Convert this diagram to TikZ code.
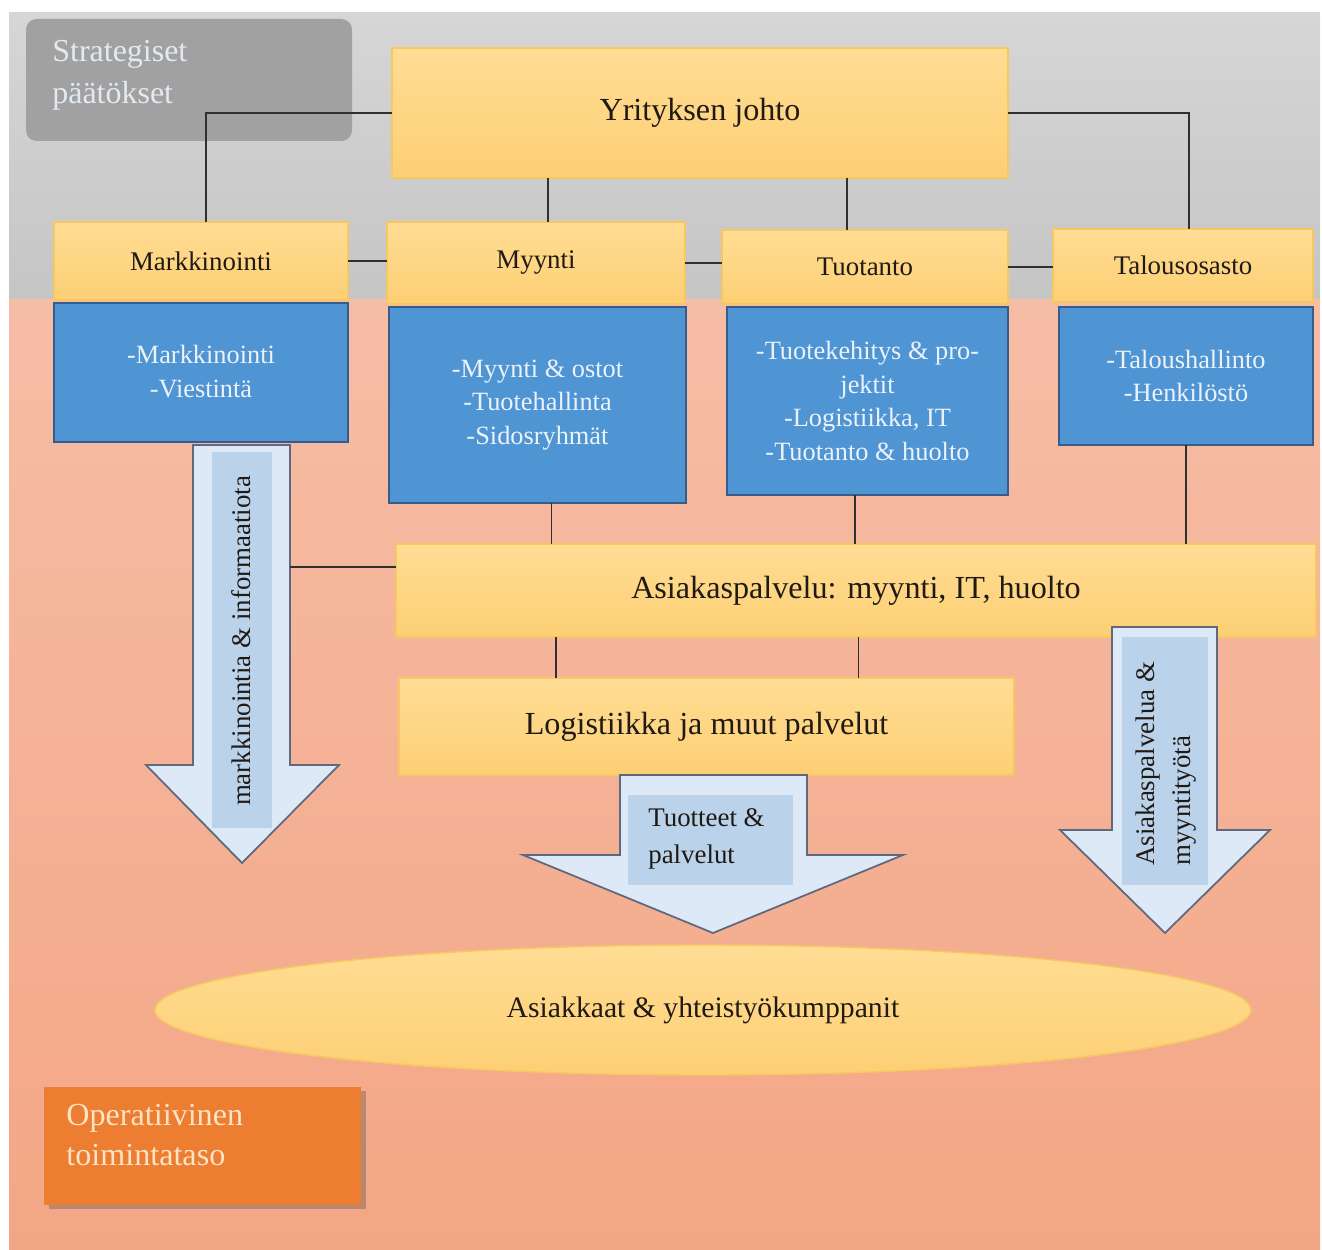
\documentclass[tikz,border=0pt]{standalone}
\usepackage{fontspec}
\setmainfont{Liberation Serif}
\usetikzlibrary{shapes.geometric,shadows,calc}

\definecolor{stratTop}{RGB}{214,214,214}
\definecolor{stratBot}{RGB}{197,197,197}
\definecolor{operTop}{RGB}{246,189,166}
\definecolor{operBot}{RGB}{243,166,133}
\definecolor{yelTop}{RGB}{255,221,148}
\definecolor{yelBot}{RGB}{253,207,116}
\definecolor{yelEdge}{RGB}{247,200,98}
\definecolor{deptBlue}{RGB}{79,148,211}
\definecolor{deptEdge}{RGB}{55,92,138}
\definecolor{arrowFill}{RGB}{221,233,247}
\definecolor{arrowInner}{RGB}{187,210,235}
\definecolor{arrowEdge}{RGB}{95,104,124}
\definecolor{tagGray}{RGB}{161,161,161}
\definecolor{tagOrange}{RGB}{236,125,49}
\definecolor{inkDark}{RGB}{32,26,20}
\definecolor{lightText}{RGB}{236,242,250}
\definecolor{linkGray}{RGB}{48,48,48}

% node of a given pixel extent: name, style, x1, y1, x2, y2, text
\newcommand{\pxbox}[7]{%
  \node[#2, minimum width={(#5-#3)*0.02cm}, minimum height={(#6-#4)*0.02cm}]
    (#1) at ({(#3+#5)/2},{(#4+#6)/2}) {#7};}

\begin{document}
\begin{tikzpicture}[x=0.02cm,y=-0.02cm,
  yelbox/.style={draw=yelEdge, line width=0.8pt, top color=yelTop, bottom color=yelBot,
    inner sep=0pt, outer sep=0pt, text=inkDark, align=center},
  bluebox/.style={draw=deptEdge, line width=0.8pt, fill=deptBlue, inner sep=0pt,
    outer sep=0pt, text=lightText, align=center,
    font=\fontsize{15}{19.3}\selectfont},
  headfont/.style={font=\fontsize{15.3}{18}\selectfont},
  bigfont/.style={font=\fontsize{18.3}{22}\selectfont},
  link/.style={draw=linkGray, line width=1.1pt},
  bigarrow/.style={draw=arrowEdge, line width=1pt, fill=arrowFill, line join=miter},
  arrowtext/.style={fill=arrowInner, inner sep=0pt},
  arrowlabel/.style={text=inkDark, font=\fontsize{15.3}{21}\selectfont, align=left}
]
\useasboundingbox (0,0) rectangle (1322,1250);

% two levels of the organisation
\shade[top color=stratTop, bottom color=stratBot] (9,13) rectangle (1320,300);
\shade[top color=operTop, bottom color=operBot] (9,300) rectangle (1320,1250);

% level labels
\node[fill=tagGray, rounded corners=6pt, inner sep=0pt, outer sep=0pt,
  minimum width={326*0.02cm}, minimum height={122*0.02cm}] (strat) at (189,80) {};
\node[anchor=north west, text=lightText!92!gray, align=left,
  font=\fontsize{18.2}{23.9}\selectfont, inner sep=0pt] (stratText) at (52,40)
  {Strategiset\\päätökset};

\node[fill=tagOrange, inner sep=0pt, outer sep=0pt,
  drop shadow={shadow xshift=3pt, shadow yshift=-2pt, opacity=0.35, fill=black!70},
  minimum width={317*0.02cm}, minimum height={118*0.02cm}] (oper) at (202,1146) {};
\node[anchor=north west, text={rgb,255:red,252;green,228;blue,196}, align=left,
  font=\fontsize{18.3}{22.8}\selectfont, inner sep=0pt] (operText) at (66,1104)
  {Operatiivinen\\toimintataso};

% management and departments
\pxbox{johto}{yelbox,bigfont}{392}{48}{1008}{178}{Yrityksen johto}
\pxbox{mark}{yelbox,headfont}{54}{222}{348}{300}{Markkinointi}
\pxbox{myynti}{yelbox,headfont}{387}{222}{685}{304}{Myynti}
\pxbox{tuot}{yelbox,headfont}{722}{230}{1008}{304}{Tuotanto}
\pxbox{talous}{yelbox,headfont}{1053}{229}{1313}{302}{Talousosasto}

\pxbox{markB}{bluebox}{54}{303}{348}{442}{\raisebox{12pt}{\parbox{5cm}{\centering -Markkinointi\\-Viestintä}}}
\pxbox{myyntiB}{bluebox}{389}{307}{686}{503}{-Myynti \& ostot\\-Tuotehallinta\\-Sidosryhmät}
\pxbox{tuotB}{bluebox}{727}{307}{1008}{495}{-Tuotekehitys \& pro-\\jektit\\-Logistiikka, IT\\-Tuotanto \& huolto}
\pxbox{talousB}{bluebox}{1059}{307}{1313}{445}{\raisebox{7pt}{\parbox{4.5cm}{\centering -Taloushallinto\\-Henkilöstö}}}

% services
\pxbox{asiakas}{yelbox,bigfont}{396}{544}{1316}{637}{Asiakaspalvelu: myynti, IT, huolto}
\pxbox{logist}{yelbox,bigfont}{399}{678}{1014}{775}{Logistiikka ja muut palvelut}

% customers
\node[ellipse, draw=yelEdge, line width=0.8pt, top color=yelTop, bottom color=yelBot,
  minimum width={1096*0.02cm}, minimum height={130*0.02cm}, inner sep=0pt,
  text=inkDark, font=\fontsize{16.9}{20}\selectfont] (asiakkaat) at (703,1010)
  {Asiakkaat \& yhteistyökumppanit};

% reporting lines
\draw[link] (johto.west) -| ([xshift=0.1cm]mark.north);
\draw[link] (johto.east) -| ([xshift=0.12cm]talous.north);
\draw[link] ([xshift=0.24cm]myynti.north) -- ([xshift=0.24cm]myynti.north |- johto.south);
\draw[link] ([xshift=-0.36cm]tuot.north) -- ([xshift=-0.36cm]tuot.north |- johto.south);
\draw[link] (mark.east) -- (mark.east -| myynti.west);
\draw[link] (myynti.east) -- (myynti.east -| tuot.west);
\draw[link] (tuot.east) -- (tuot.east -| talous.west);
\draw[link] ([xshift=0.28cm]myyntiB.south) -- ([xshift=0.28cm]myyntiB.south |- asiakas.north);
\draw[link] ([xshift=-0.25cm]tuotB.south) -- ([xshift=-0.25cm]tuotB.south |- asiakas.north);
\draw[link] (talousB.south) -- (talousB.south |- asiakas.north);
\draw[link] ([xshift=-3.02cm]logist.north) -- ([xshift=-3.02cm]logist.north |- asiakas.south);
\draw[link] ([xshift=3.04cm]logist.north) -- ([xshift=3.04cm]logist.north |- asiakas.south);

% flow arrows
\draw[bigarrow] (193,445) -- (290,445) -- (290,765) -- (339,765) -- (242,863)
  -- (146,765) -- (193,765) -- cycle;
\fill[arrowInner] (212,452) rectangle (272,828);
\node[arrowlabel, rotate=90] (markLabel) at (241,641) {markkinointia \& informaatiota};
\coordinate (markArrowEdge) at (290,567);
\draw[link] (markArrowEdge) -- (markArrowEdge -| asiakas.west);

\draw[bigarrow] (620,775) -- (807,775) -- (807,855) -- (903,855) -- (713,933)
  -- (523,855) -- (620,855) -- cycle;
\fill[arrowInner] (628,795) rectangle (793,885);
\node[arrowlabel, anchor=north west, inner sep=0pt] (prodLabel) at (648,808)
  {Tuotteet \&\\palvelut};

\draw[bigarrow] (1112,627) -- (1217,627) -- (1217,830) -- (1270,830) -- (1165,933)
  -- (1060,830) -- (1112,830) -- cycle;
\fill[arrowInner] (1122,637) rectangle (1208,885);
\node[arrowlabel, rotate=90, anchor=north west, inner sep=0pt] (serviceLabel)
  at (1135,866) {Asiakaspalvelua \&\\myyntityötä};

\end{tikzpicture}
\end{document}
